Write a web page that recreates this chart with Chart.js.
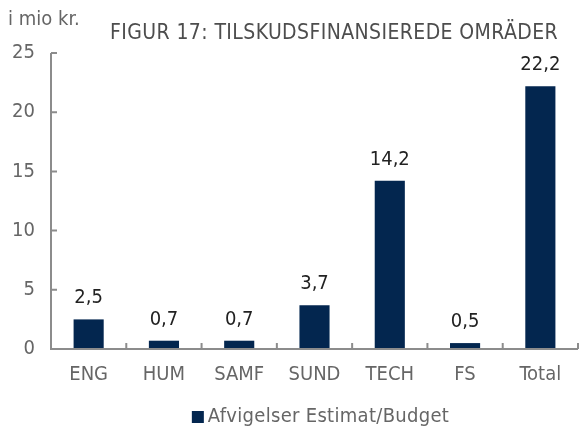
<!DOCTYPE html>
<html><head><meta charset="utf-8">
<script src="https://cdn.jsdelivr.net/npm/chart.js@4"></script>
<style>html,body{margin:0;padding:0;background:#fff}#wrap{width:579px;height:430px}</style>
</head><body><div id="wrap"><canvas id="c" width="579" height="430"></canvas></div>
<script>
const categories = ['ENG', 'HUM', 'SAMF', 'SUND', 'TECH', 'FS', 'Total'];
const values = [2.5, 0.7, 0.7, 3.7, 14.2, 0.5, 22.2];
const yTicks = [0, 5, 10, 15, 20, 25];
const seriesName = 'Afvigelser Estimat/Budget';
const chartTitle = 'FIGUR 17: TILSKUDSFINANSIEREDE OMRÄDER';
const unitLabel = 'i mio kr.';

const FONT = "'DejaVu Sans Condensed', 'Liberation Sans Narrow', 'Roboto', sans-serif";
const BAR = '#03264f';
const AXIS = '#8c8c8c';
const TXT = '#666666';
const fmt = v => v.toFixed(1).replace('.', ',');

const decor = {
  id: 'decor',
  afterDatasetsDraw(chart) {
    const ctx = chart.ctx, x = chart.scales.x, y = chart.scales.y, ca = chart.chartArea;
    ctx.save();
    ctx.strokeStyle = AXIS; ctx.lineWidth = 2;
    ctx.beginPath();
    ctx.moveTo(ca.left, y.getPixelForValue(25));
    ctx.lineTo(ca.left, y.getPixelForValue(0));
    ctx.lineTo(ca.right, y.getPixelForValue(0));
    ctx.stroke();
    ctx.beginPath();
    yTicks.forEach(v => {
      if (v === 0) return;
      const py = y.getPixelForValue(v);
      ctx.moveTo(ca.left, py); ctx.lineTo(ca.left + 6, py);
    });
    const y0 = y.getPixelForValue(0);
    const half = (x.getPixelForTick(1) - x.getPixelForTick(0)) / 2;
    for (let i = 0; i < categories.length; i++) {
      const px = x.getPixelForTick(i) + half;
      ctx.moveTo(px, y0); ctx.lineTo(px, y0 - 6);
    }
    ctx.stroke();
    const meta = chart.getDatasetMeta(0);
    ctx.fillStyle = '#222'; ctx.font = '20px ' + FONT;
    ctx.textAlign = 'center'; ctx.textBaseline = 'alphabetic';
    meta.data.forEach((bar, i) => {
      ctx.fillText(fmt(values[i]), bar.x, bar.y - 16);
    });
    ctx.textAlign = 'left'; ctx.textBaseline = 'middle';
    ctx.fillStyle = TXT;
    ctx.font = '20px ' + FONT;
    ctx.fillText(unitLabel, 8, 20);
    ctx.fillStyle = '#4d4d4d';
    ctx.font = '21px ' + FONT;
    ctx.letterSpacing = '0.4px';
    ctx.fillText(chartTitle, 110, 34);
    const ds = chart.data.datasets[0];
    ctx.font = '20px ' + FONT;
    ctx.letterSpacing = '0.3px';
    const tw = ctx.measureText(ds.label).width;
    const total = 12 + 4 + tw;
    const lx = (ca.left + ca.right) / 2 - total / 2 + 6;
    ctx.fillStyle = ds.backgroundColor;
    ctx.fillRect(lx, 411, 12, 12);
    ctx.fillStyle = TXT;
    ctx.fillText(ds.label, lx + 16, 417);
    ctx.restore();
  }
};

new Chart(document.getElementById('c'), {
  type: 'bar',
  data: {
    labels: categories,
    datasets: [{ label: seriesName, data: values, backgroundColor: BAR,
      barPercentage: 0.4, categoryPercentage: 1.0 }]
  },
  options: {
    responsive: false, animation: false,
    layout: { padding: { top: 53, right: 1, left: 0, bottom: 0 } },
    plugins: { legend: { display: false }, tooltip: { enabled: false }, title: { display: false } },
    scales: {
      x: {
        grid: { display: false, drawTicks: false },
        border: { display: false },
        ticks: { color: TXT, font: { family: FONT, size: 20 }, padding: 14 },
        afterFit: s => { s.height = 81; }
      },
      y: {
        min: 0, max: 25,
        afterBuildTicks: s => { s.ticks = yTicks.map(v => ({ value: v })); },
        grid: { display: false, drawTicks: false },
        border: { display: false },
        ticks: { color: TXT, font: { family: FONT, size: 20 }, padding: 16 },
        afterFit: s => { s.width = 51; }
      }
    }
  },
  plugins: [decor]
});
</script>
</body></html>
